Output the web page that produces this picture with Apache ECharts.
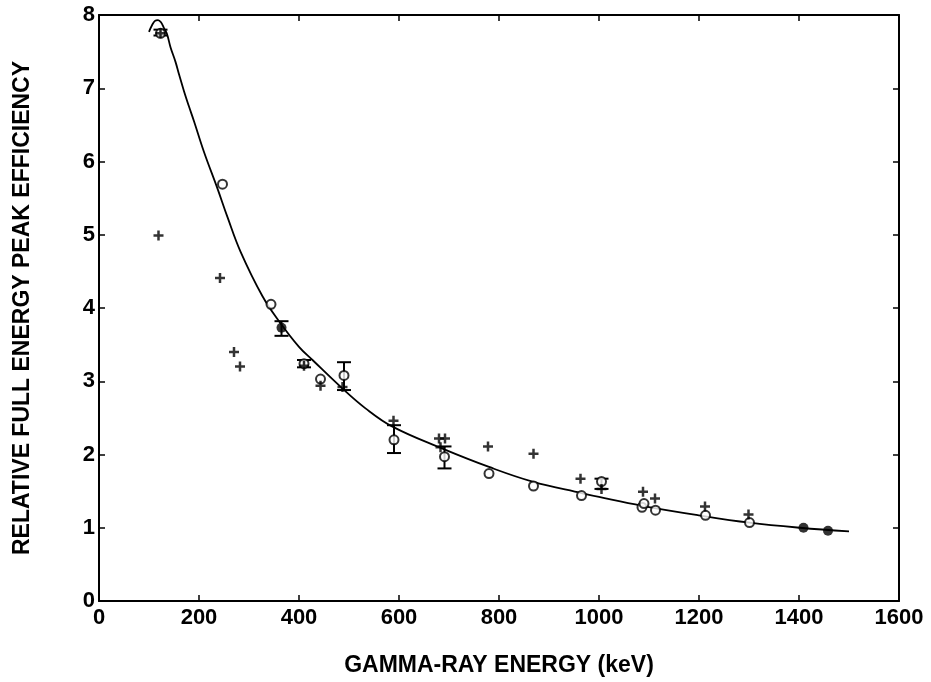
<!DOCTYPE html>
<html><head><meta charset="utf-8">
<script src="https://cdn.jsdelivr.net/npm/echarts@6/dist/echarts.min.js"></script>
<style>html,body{margin:0;padding:0;background:#fff}#c{width:931px;height:682px}</style>
</head><body><div id="c"></div>
<script>
// Fitted efficiency curve (keV, relative efficiency)
const curvePts = [[100,7.77],[106,7.86],[112,7.92],[118,7.93],[124,7.90],[130,7.82],[136,7.74],[143,7.56],[153,7.36],[160,7.19],[170,6.96],[180,6.75],[190,6.55],[210,6.13],[237,5.63],[257,5.24],[283,4.77],[327,4.16],[360,3.82],[400,3.47],[427,3.29],[487,2.90],[533,2.63],[587,2.38],[687,2.08],[780,1.83],[867,1.63],[967,1.47],[1000,1.42],[1086,1.30],[1200,1.17],[1301,1.07],[1402,1.00],[1500,0.95]];
// Open circles
const openCircles = [[123,7.75],[247,5.69],[344,4.05],[410,3.24],[443,3.03],[490,3.08],[590,2.20],[691,1.97],[780,1.74],[869,1.57],[965,1.44],[1005,1.63],[1086,1.28],[1090,1.33],[1113,1.24],[1213,1.17],[1301,1.07]];
// Filled circles
const filledCircles = [[365,3.73],[1409,1.00],[1458,0.96]];
// Plus markers
const pluses = [[123,7.75],[119,4.99],[242,4.41],[270,3.40],[282,3.20],[410,3.21],[443,2.94],[487,2.92],[589,2.46],[680,2.22],[692,2.22],[683,2.10],[778,2.11],[869,2.01],[963,1.67],[1005,1.53],[1088,1.49],[1112,1.40],[1212,1.29],[1299,1.18]];
// Error bars [energy, low, high]
const errorBars = [[123,7.72,7.80],[365,3.62,3.82],[410,3.19,3.29],[490,2.88,3.26],[590,2.02,2.40],[691,1.81,2.11],[1005,1.53,1.67]];
const xTicks = [0,200,400,600,800,1000,1200,1400,1600];
const yTicks = [0,1,2,3,4,5,6,7,8];

const FONT = '"Liberation Sans", Arial, sans-serif';
const mkLine = () => ({show:true, onZero:false, lineStyle:{color:'#000', width:2}});
const mkTick = () => ({show:true, inside:true, length:6, lineStyle:{color:'#000', width:1.5}});
const chart = echarts.init(document.getElementById('c'), null, {renderer:'canvas'});
chart.setOption({
  animation:false,
  backgroundColor:'#fff',
  grid:{left:99, right:32, top:15, bottom:80},
  xAxis:[
    {type:'value', min:xTicks[0], max:xTicks[xTicks.length-1], interval:200, position:'bottom',
     name:'GAMMA-RAY ENERGY (keV)', nameLocation:'middle', nameGap:53,
     nameTextStyle:{fontFamily:FONT, fontWeight:'bold', fontSize:23, color:'#000'},
     axisLine:mkLine(), axisTick:mkTick(), splitLine:{show:false},
     axisLabel:{fontFamily:FONT, fontWeight:'bold', fontSize:22, color:'#000', margin:6,
       formatter:v => String(v)}},
    {type:'value', min:xTicks[0], max:xTicks[xTicks.length-1], interval:200, position:'top',
     axisLine:mkLine(), axisTick:mkTick(), splitLine:{show:false}, axisLabel:{show:false}}
  ],
  yAxis:[
    {type:'value', min:yTicks[0], max:yTicks[yTicks.length-1], interval:1, position:'left',
     name:'RELATIVE FULL ENERGY PEAK EFFICIENCY', nameLocation:'middle', nameGap:65, nameRotate:90,
     nameTextStyle:{fontFamily:FONT, fontWeight:'bold', fontSize:23, color:'#000'},
     axisLine:mkLine(), axisTick:mkTick(), splitLine:{show:false},
     axisLabel:{fontFamily:FONT, fontWeight:'bold', fontSize:22, color:'#000', margin:4,
       formatter:v => String(v)}},
    {type:'value', min:yTicks[0], max:yTicks[yTicks.length-1], interval:1, position:'right',
     axisLine:mkLine(), axisTick:mkTick(), splitLine:{show:false}, axisLabel:{show:false}}
  ],
  series:[
    {type:'line', data:curvePts, smooth:0.4, symbol:'none', lineStyle:{color:'#000', width:1.8}, z:2},
    {type:'custom', data:errorBars, z:3,
     renderItem:function(params, api){
       const x = api.value(0);
       const lo = api.coord([x, api.value(1)]);
       const hi = api.coord([x, api.value(2)]);
       const w = 7;
       const st = {stroke:'#000', lineWidth:2};
       return {type:'group', children:[
         {type:'line', shape:{x1:lo[0], y1:lo[1], x2:hi[0], y2:hi[1]}, style:st},
         {type:'line', shape:{x1:lo[0]-w, y1:lo[1], x2:lo[0]+w, y2:lo[1]}, style:st},
         {type:'line', shape:{x1:hi[0]-w, y1:hi[1], x2:hi[0]+w, y2:hi[1]}, style:st}
       ]};
     }},
    {type:'scatter', data:openCircles, symbol:'circle', symbolSize:9,
     itemStyle:{color:'#fff', borderColor:'#000', borderWidth:2}, z:4},
    {type:'scatter', data:filledCircles, symbol:'circle', symbolSize:10,
     itemStyle:{color:'#000'}, z:4},
    {type:'scatter', data:pluses, symbol:'path://M3.75,0H6.25V3.75H10V6.25H6.25V10H3.75V6.25H0V3.75H3.75Z', symbolSize:10,
     itemStyle:{color:'#000'}, z:5}
  ]
});
</script></body></html>
